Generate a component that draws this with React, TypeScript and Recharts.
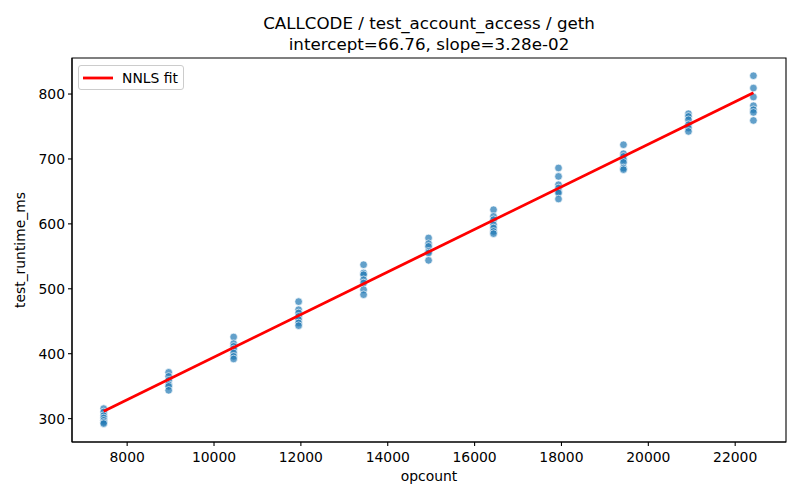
import { ScatterChart, Scatter, XAxis, YAxis, ReferenceArea, Legend, Label } from 'recharts';

// opcount per test run group
const opcounts = [7460, 8956, 10452, 11948, 13444, 14940, 16436, 17932, 19428, 20924, 22420];

// measured runtimes (ms), one list per opcount
const runtimesMs = [
  [315.4, 310.3, 304.6, 301.1, 297.4, 294.3, 292.3],
  [371.3, 365.1, 359.0, 352.4, 349.7, 343.6],
  [425.8, 415.5, 411.3, 407.3, 401.2, 395.9, 391.9],
  [480.2, 467.8, 462.8, 457.5, 452.4, 447.4, 443.2],
  [537.1, 524.4, 521.7, 514.0, 508.9, 498.6, 490.9],
  [578.3, 569.5, 565.3, 557.6, 555.2, 543.8],
  [621.8, 611.5, 606.4, 598.7, 593.6, 588.4, 584.9],
  [686.1, 673.1, 660.3, 655.2, 650.0, 647.5, 638.3],
  [721.9, 708.1, 703.9, 698.8, 694.7, 686.0, 683.5],
  [769.7, 765.5, 760.4, 752.7, 747.6, 742.4],
  [828.2, 809.2, 795.4, 782.0, 775.8, 771.7, 759.3],
];

// NNLS fit line end points
const fitOpcount = [7460, 22420];
const fitRuntime = [311.5, 802.1];

const xTicks = [8000, 10000, 12000, 14000, 16000, 18000, 20000, 22000];
const yTicks = [300, 400, 500, 600, 700, 800];
const titleLines = ['CALLCODE / test_account_access / geth', 'intercept=66.76, slope=3.28e-02'];

const points = opcounts.flatMap((x, i) => runtimesMs[i].map((y) => ({ x, y })));
const fit = fitOpcount.map((x, i) => ({ x, y: fitRuntime[i] }));

const FONT = '"DejaVu Sans", sans-serif';
const xDomain = [6730, 23170];
const yDomain = [264, 855.5];

const Dot = (props: any) => (
  <circle
    cx={props.cx}
    cy={props.cy}
    r={3.8}
    fill="#1f77b4"
    fillOpacity={0.7}
    stroke="#ffffff"
    strokeOpacity={0.7}
    strokeWidth={0.9}
  />
);

const NoDot = () => <g />;

const FitLegend = () => (
  <div
    style={{
      width: 104,
      height: 23,
      border: '1px solid #cccccc',
      borderRadius: 3,
      background: 'rgba(255,255,255,0.8)',
      display: 'flex',
      alignItems: 'center',
      fontFamily: FONT,
      fontSize: 13.9,
      color: '#000',
    }}
  >
    <svg width={40} height={23}>
      <line x1={4} y1={12} x2={34} y2={12} stroke="#ff0000" strokeWidth={2.8} />
    </svg>
    <span style={{ marginLeft: 3 }}>NNLS fit</span>
  </div>
);

export default function App() {
  return (
    <div style={{ position: 'absolute', left: 0, top: 0, width: 800, height: 500, background: '#fff' }}>
      <ScatterChart width={800} height={500} margin={{ top: 58, right: 14, bottom: 0, left: 0 }}>
        <text x={429} y={29} textAnchor="middle" fontFamily={FONT} fontSize={16.7} fill="#000">
          {titleLines[0]}
        </text>
        <text x={429} y={50} textAnchor="middle" fontFamily={FONT} fontSize={16.7} fill="#000">
          {titleLines[1]}
        </text>
        <XAxis
          type="number"
          dataKey="x"
          domain={xDomain}
          ticks={xTicks}
          allowDataOverflow
          height={58}
          tickSize={4}
          tickMargin={6}
          stroke="#000"
          axisLine={{ stroke: '#000', strokeWidth: 1.1 }}
          tickLine={{ stroke: '#000', strokeWidth: 1.1 }}
          tick={{ fill: '#000', fontSize: 13.9, fontFamily: FONT }}
        >
          <Label
            content={() => (
              <text x={429} y={481} textAnchor="middle" fontFamily={FONT} fontSize={13.9} fill="#000">
                opcount
              </text>
            )}
          />
        </XAxis>
        <YAxis
          type="number"
          dataKey="y"
          domain={yDomain}
          ticks={yTicks}
          allowDataOverflow
          width={72}
          tickSize={4}
          tickMargin={3}
          stroke="#000"
          axisLine={{ stroke: '#000', strokeWidth: 1.1 }}
          tickLine={{ stroke: '#000', strokeWidth: 1.1 }}
          tick={{ fill: '#000', fontSize: 13.9, fontFamily: FONT }}
        >
          <Label
            content={() => (
              <text
                x={25}
                y={250}
                transform="rotate(-90 25 250)"
                textAnchor="middle"
                fontFamily={FONT}
                fontSize={13.9}
                fill="#000"
              >
                test_runtime_ms
              </text>
            )}
          />
        </YAxis>
        <ReferenceArea
          x1={xDomain[0]}
          x2={xDomain[1]}
          y1={yDomain[0]}
          y2={yDomain[1]}
          fill="none"
          stroke="#000"
          strokeWidth={1.1}
          strokeOpacity={1}
        />
        <Scatter data={points} shape={Dot} isAnimationActive={false} />
        <Scatter
          name="NNLS fit"
          data={fit}
          shape={NoDot}
          line={{ stroke: '#ff0000', strokeWidth: 2.8 }}
          isAnimationActive={false}
        />
        <Legend
          layout="vertical"
          align="center"
          verticalAlign="middle"
          content={() => <FitLegend />}
          wrapperStyle={{ left: 78, top: 65, width: 'auto', height: 'auto' }}
        />
      </ScatterChart>
    </div>
  );
}
